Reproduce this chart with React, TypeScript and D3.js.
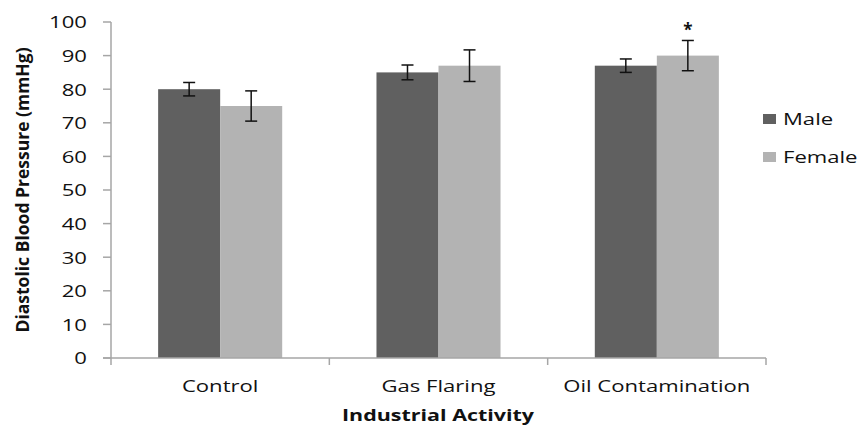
import React from 'react';
import * as d3 from 'd3';

const categories = ['Control', 'Gas Flaring', 'Oil Contamination'];
const groups = ['Male', 'Female'];
const maleValues = [80, 85, 87];
const femaleValues = [75, 87, 90];
const maleErrors = [2, 2.2, 2];
const femaleErrors = [4.5, 4.7, 4.5];
const yTicks = [0, 10, 20, 30, 40, 50, 60, 70, 80, 90, 100];
const markers = ['', '', '*'];

const W = 861;
const H = 430;
const SX = 1.3; // the picture is stretched sideways
const FONT = '"Open Sans", "DejaVu Sans", sans-serif';

const colors: Record<string, string> = { Male: '#606060', Female: '#b3b3b3' };

const Txt: React.FC<{ x: number; y: number; anchor?: string; size?: number; bold?: boolean; children: React.ReactNode }> = ({ x, y, anchor = 'start', size = 17, bold = false, children }) => (
  <text
    transform={`translate(${x},${y}) scale(${SX},1)`}
    textAnchor={anchor}
    dominantBaseline="central"
    fontFamily={FONT}
    fontSize={size}
    fontWeight={bold ? 'bold' : 'normal'}
    fill="#111"
  >
    {children}
  </text>
);

const App: React.FC = () => {
  const x0 = d3.scaleBand<string>().domain(categories).range([111, 766]).paddingInner(0).paddingOuter(0);
  const x1 = d3.scaleBand<string>().domain(groups).range([0, x0.bandwidth()]).paddingInner(0).paddingOuter(0.76);
  const y = d3.scaleLinear().domain([0, 100]).range([358, 22]);

  const series = [
    { key: 'Male', values: maleValues, errors: maleErrors },
    { key: 'Female', values: femaleValues, errors: femaleErrors },
  ];
  const axisColor = '#a6a6a6';
  const capW = 12;

  return (
    <svg width={W} height={H} style={{ position: 'absolute', left: 0, top: 0, background: '#fff' }}>
      {/* bars */}
      {series.map(s =>
        categories.map((c, i) => (
          <rect
            key={s.key + c}
            x={(x0(c) ?? 0) + (x1(s.key) ?? 0)}
            y={y(s.values[i])}
            width={x1.bandwidth()}
            height={y(0) - y(s.values[i])}
            fill={colors[s.key]}
          />
        ))
      )}

      {/* error bars */}
      {series.map(s =>
        categories.map((c, i) => {
          const cx = (x0(c) ?? 0) + (x1(s.key) ?? 0) + x1.bandwidth() / 2;
          const hi = y(s.values[i] + s.errors[i]);
          const lo = y(s.values[i] - s.errors[i]);
          return (
            <g key={'e' + s.key + c} stroke="#111" strokeWidth={1.5}>
              <line x1={cx} x2={cx} y1={hi} y2={lo} />
              <line x1={cx - capW / 2} x2={cx + capW / 2} y1={hi} y2={hi} />
              <line x1={cx - capW / 2} x2={cx + capW / 2} y1={lo} y2={lo} />
            </g>
          );
        })
      )}

      {/* significance marker */}
      {categories.map((c, i) =>
        markers[i] ? (
          <text
            key={'m' + c}
            x={(x0(c) ?? 0) + (x1('Female') ?? 0) + x1.bandwidth() / 2}
            y={y(femaleValues[i] + femaleErrors[i]) - 4}
            textAnchor="middle"
            fontFamily={FONT}
            fontSize={17}
            fontWeight="bold"
            fill="#111"
          >
            {markers[i]}
          </text>
        ) : null
      )}

      {/* y axis */}
      <line x1={111} x2={111} y1={y(100)} y2={y(0)} stroke={axisColor} strokeWidth={1.5} />
      {yTicks.map(t => (
        <g key={'yt' + t}>
          <line x1={103} x2={111} y1={y(t)} y2={y(t)} stroke={axisColor} strokeWidth={1.5} />
          <Txt x={87} y={y(t)} anchor="end">{t}</Txt>
        </g>
      ))}

      {/* x axis */}
      <line x1={103} x2={766} y1={y(0)} y2={y(0)} stroke={axisColor} strokeWidth={1.5} />
      {[...categories.map(c => x0(c) ?? 0), 766].map((tx, i) => (
        <line key={'xt' + i} x1={tx} x2={tx} y1={y(0)} y2={y(0) + 7} stroke={axisColor} strokeWidth={1.5} />
      ))}
      {categories.map(c => (
        <Txt key={'xl' + c} x={(x0(c) ?? 0) + x0.bandwidth() / 2} y={386} anchor="middle">{c}</Txt>
      ))}

      {/* axis titles */}
      <Txt x={438} y={415} anchor="middle" size={16.5} bold>Industrial Activity</Txt>
      <text
        transform={`translate(22,190) rotate(-90)`}
        textAnchor="middle"
        dominantBaseline="central"
        fontFamily={FONT}
        fontSize={17.5}
        fontWeight="bold"
        fill="#111"
      >
        Diastolic Blood Pressure (mmHg)
      </text>

      {/* legend */}
      {groups.map((g, i) => (
        <g key={'lg' + g}>
          <rect x={763} y={114 + i * 38} width={13} height={10} fill={colors[g]} />
          <Txt x={783} y={119 + i * 38}>{g}</Txt>
        </g>
      ))}
    </svg>
  );
};

export default App;
